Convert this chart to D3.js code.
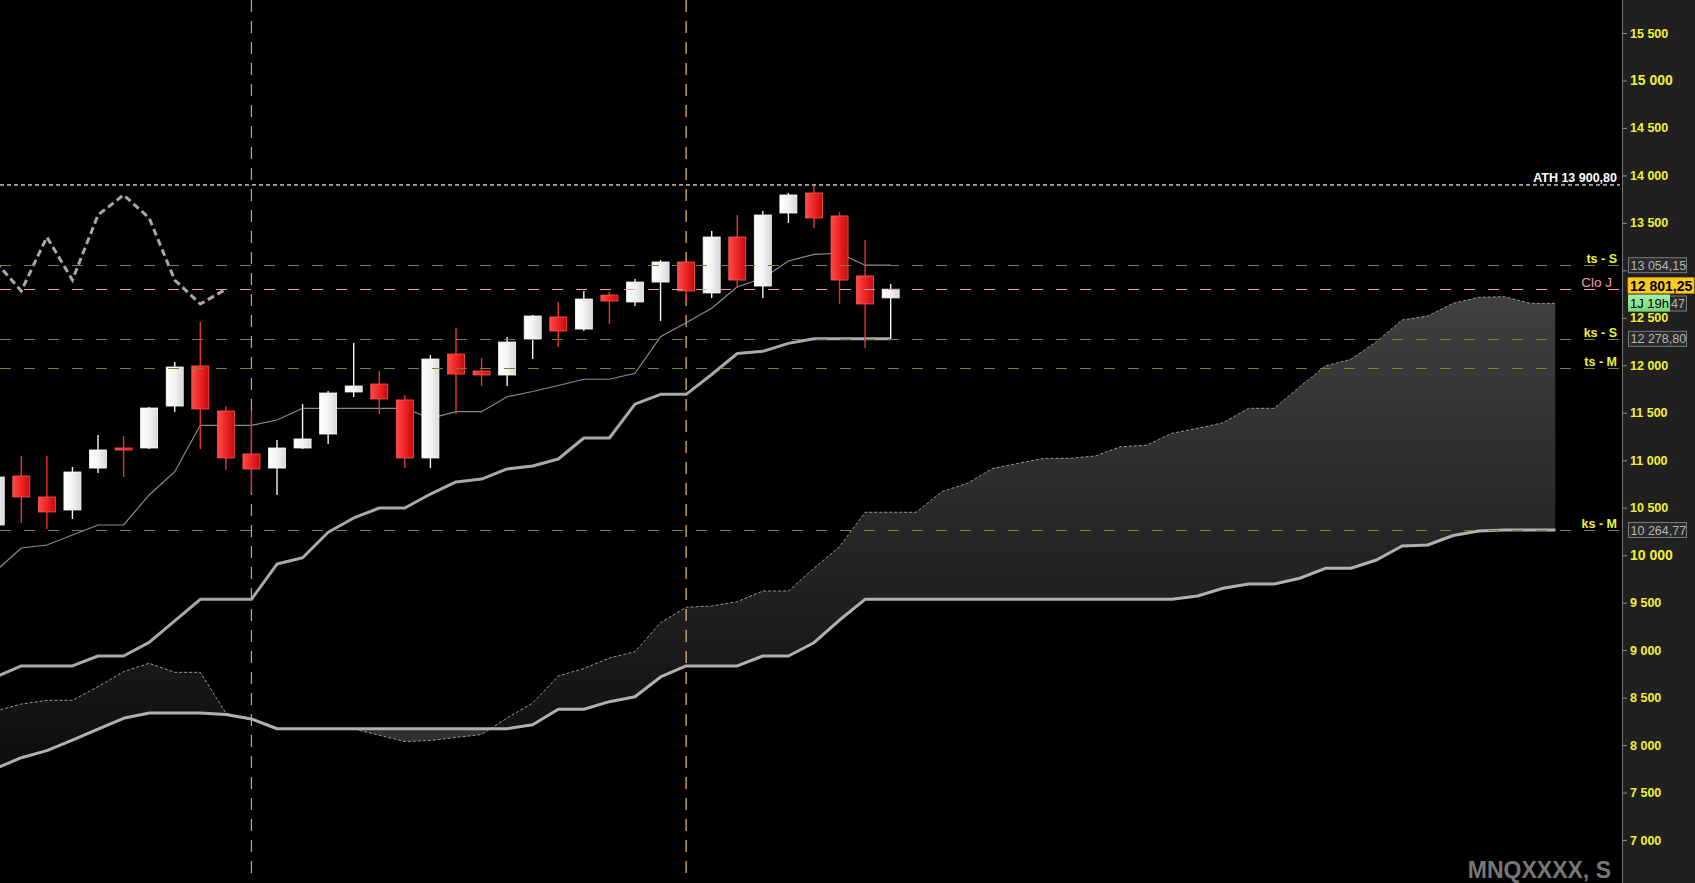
<!DOCTYPE html>
<html><head><meta charset="utf-8">
<script src="https://cdn.jsdelivr.net/npm/d3@7"></script>
<style>html,body{margin:0;padding:0;background:#000;overflow:hidden}svg{display:block}</style>
</head><body><svg id="c" width="1695" height="883"></svg>
<script>
// ---------------- DATA ----------------
const candleOpen  = [10318,10834,10613,10476,10918,11129,11129,11571,11993,11519,11066,10918,11129,11276,11719,11803,11635,11024,12119,11940,11898,12277,12509,12382,12740,12667,12877,13088,12762,13351,12835,13604,13815,13573,12941,12710];
const candleHigh  = [10840,11045,11045,10929,11266,11255,11561,12035,12456,11571,11529,11213,11592,11729,12235,11940,11687,12109,12393,12077,12298,12530,12667,12783,12772,12909,13109,13095,13415,13583,13625,13815,13900.8,13615,13320,12856];
const candleLow   = [10300,10339,10276,10381,10866,10823,11118,11508,11118,10897,10655,10634,11118,11171,11666,11487,10918,10918,11487,11782,11782,12066,12193,12361,12435,12625,12467,12667,12709,12814,12709,13499,13446,12646,12182,12278.8];
const candleClose = [10823,10613,10455,10876,11108,11108,11550,11982,11540,11024,10908,11129,11224,11708,11782,11645,11024,12066,11908,11898,12245,12519,12361,12698,12677,12877,13088,12783,13351,12898,13583,13794,13552,12898,12646,12801.25];

const tenkanSen = [9833,10076,10107,10213,10318,10318,10634,10879,11368,11368,11368,11424,11547,11547,11547,11547,11547,11442,11511,11511,11669,11724,11787,11853,11853,11916,12301,12449,12600,12828,12917,13099,13169,13180,13054.15,13054.15];
const kijunSen  = [8717,8833,8833,8833,8938,8938,9082,9307,9535,9535,9535,9907,9973,10241,10392,10497,10497,10644,10771,10802,10908,10939,11013,11234,11234,11592,11694,11694,11903,12124,12147,12231,12278.8,12278.8,12278.8,12278.8];

const senkouA = [8359,8432,8471,8471,8615,8773,8861,8766,8766,8338,
                 8264,8173,8173,8173,8169,8103,8037,8048,8080,8111,
                 8285,8443,8727,8806,8917,8983,9289,9451,9465,9510,
                 9623,9623,9862,10089,10452,10452,10452,10669,10757,10915,
                 10968,11020,11020,11045,11143,11157,11284,11336,11395,11547,
                 11547,11775,11993,12063,12249,12477,12519,12653,12716,12723,
                 12653,12653];
const senkouB = [7753,7867,7941,8053,8169,8282,8338,8338,8338,8322,
                 8275,8172,8172,8172,8172,8172,8172,8172,8172,8172,
                 8172,8214,8377,8377,8457,8509,8717,8833,8833,8833,
                 8938,8938,9078,9317,9535,9535,9535,9535,9535,9535,
                 9535,9535,9535,9535,9535,9535,9535,9570,9651,9696,
                 9696,9757,9862,9862,9949,10097,10107,10207,10255,10264.77,
                 10264.77,10264.77];
const chikouShift = 26;

const yTickValues = [7000,7500,8000,8500,9000,9500,10000,10500,11000,11500,12000,12500,13000,13500,14000,14500,15000,15500];

const athName = "ATH";
const athValue = 13900.80;
const levelNames  = ["ts - S", "Clo J", "ks - S", "ts - M", "ks - M"];
const levelValues = [13054.15, 12801.25, 12278.80, 11968, 10264.77];
const timerText = "1J 19h";
const timerHiddenValue = 12667.47;
const verticalMarkIndex = [10, 27];
const watermark = "MNQXXXX, S";

// ---------------- SETUP ----------------
const W = 1695, H = 883, AX = 1622;
const svg = d3.select("#c");
const FONT = "Arial, 'Liberation Sans', sans-serif";
const loc = d3.formatLocale({decimal: ",", thousands: " ", grouping: [3], currency: ["", ""]});
const fmtInt = loc.format(",d");
const fmtVal = loc.format(",.2f");

const nPeriods = senkouA.length; // 62
const x = d3.scaleLinear().domain([0, nPeriods - 1]).range([-4.27, 1555.5]);
const y = d3.scaleLinear().domain([7000, 15500]).range([840, 33]);

svg.append("rect").attr("width", W).attr("height", H).attr("fill", "#000");

const defs = svg.append("defs");
defs.append("clipPath").attr("id", "plotClip").append("rect").attr("x", 0).attr("y", 0).attr("width", AX).attr("height", H);

const gW = defs.append("linearGradient").attr("id", "gWhite").attr("x1", 0).attr("x2", 1).attr("y1", 0).attr("y2", 0);
gW.append("stop").attr("offset", 0).attr("stop-color", "#ffffff");
gW.append("stop").attr("offset", 0.5).attr("stop-color", "#f3f3f3");
gW.append("stop").attr("offset", 1).attr("stop-color", "#d8d8d8");
const gR = defs.append("linearGradient").attr("id", "gRed").attr("x1", 0).attr("x2", 1).attr("y1", 0).attr("y2", 0);
gR.append("stop").attr("offset", 0).attr("stop-color", "#ff4a4a");
gR.append("stop").attr("offset", 0.5).attr("stop-color", "#ee2424");
gR.append("stop").attr("offset", 1).attr("stop-color", "#c40c0c");
const gC = defs.append("linearGradient").attr("id", "gCloud").attr("gradientUnits", "userSpaceOnUse")
  .attr("x1", 0).attr("x2", 0).attr("y1", 290).attr("y2", 770);
gC.append("stop").attr("offset", 0).attr("stop-color", "#414141");
gC.append("stop").attr("offset", 1).attr("stop-color", "#0d0d0d");
const gG = defs.append("linearGradient").attr("id", "gGreen").attr("x1", 0).attr("x2", 0).attr("y1", 0).attr("y2", 1);
gG.append("stop").attr("offset", 0).attr("stop-color", "#a6f0a6");
gG.append("stop").attr("offset", 1).attr("stop-color", "#74d87c");

const idx = d3.range(nPeriods);
defs.append("clipPath").attr("id", "aboveB").append("path")
  .attr("d", d3.area().x(i => x(i)).y0(0).y1(i => y(senkouB[i]))(idx));
defs.append("clipPath").attr("id", "belowB").append("path")
  .attr("d", d3.area().x(i => x(i)).y0(H).y1(i => y(senkouB[i]))(idx));

const plot = svg.append("g").attr("clip-path", "url(#plotClip)");

// ---------------- CLOUD ----------------
const cloudArea = d3.area().x(i => x(i)).y0(i => y(senkouB[i])).y1(i => y(senkouA[i]));
plot.append("path").attr("d", cloudArea(idx)).attr("fill", "url(#gCloud)").attr("clip-path", "url(#aboveB)");
plot.append("path").attr("d", cloudArea(idx)).attr("fill", "#303030").attr("clip-path", "url(#belowB)");

const lineIdx = (arr) => d3.line().x(i => x(i)).y(i => y(arr[i]))(d3.range(arr.length));
plot.append("path").attr("d", lineIdx(senkouA)).attr("fill", "none")
  .attr("stroke", "#9a9a9a").attr("stroke-width", 1).attr("stroke-dasharray", "3,2");
plot.append("path").attr("d", lineIdx(senkouB)).attr("fill", "none")
  .attr("stroke", "#b0b0b0").attr("stroke-width", 3).attr("stroke-linejoin", "round");

// ---------------- VERTICAL MARKERS ----------------
const vColors = ["#dc86dc", "#f0c27a"];
verticalMarkIndex.forEach((vi, k) => {
  plot.append("line").attr("x1", x(vi)).attr("x2", x(vi)).attr("y1", 0).attr("y2", 877)
    .attr("stroke", vColors[k]).attr("stroke-width", 1.2).attr("stroke-dasharray", "12,9");
});

// ---------------- TENKAN / KIJUN / CHIKOU ----------------
plot.append("path").attr("d", lineIdx(tenkanSen)).attr("fill", "none")
  .attr("stroke", "#8c8c8c").attr("stroke-width", 1.2);
plot.append("path").attr("d", lineIdx(kijunSen)).attr("fill", "none")
  .attr("stroke", "#a9a9a9").attr("stroke-width", 3).attr("stroke-linejoin", "round");
const chikouIdx = d3.range(candleClose.length - chikouShift);
plot.append("path")
  .attr("d", d3.line().x(i => x(i)).y(i => y(candleClose[i + chikouShift]))(chikouIdx))
  .attr("fill", "none").attr("stroke", "#a8a8a8").attr("stroke-width", 3).attr("stroke-dasharray", "7,4");

// ---------------- CANDLES ----------------
const bodyW = 17;
const cIdx = d3.range(candleOpen.length);
const cg = plot.append("g");
cIdx.forEach(i => {
  const up = candleClose[i] >= candleOpen[i];
  const col = up ? "#f4f4f4" : "#e83030";
  cg.append("line").attr("x1", x(i)).attr("x2", x(i))
    .attr("y1", y(candleHigh[i])).attr("y2", y(candleLow[i]))
    .attr("stroke", col).attr("stroke-width", 1.4);
  const top = y(Math.max(candleOpen[i], candleClose[i]));
  const bot = y(Math.min(candleOpen[i], candleClose[i]));
  cg.append("rect").attr("x", x(i) - bodyW / 2).attr("y", top)
    .attr("width", bodyW).attr("height", Math.max(2, bot - top))
    .attr("fill", up ? "url(#gWhite)" : "url(#gRed)")
    .attr("stroke", up ? "#ffffff" : "#ff5555").attr("stroke-width", 0.8);
});

// ---------------- AXIS PANEL ----------------
svg.append("rect").attr("x", AX).attr("y", 0).attr("width", W - AX).attr("height", H).attr("fill", "#202020");
svg.append("line").attr("x1", AX + 0.5).attr("x2", AX + 0.5).attr("y1", 0).attr("y2", H)
  .attr("stroke", "#777").attr("stroke-width", 1);

const levelStyle = {
  "ts - S": {stroke: "#7f7f33", label: "#f2f230", bold: true, box: "grey", rx: 1617},
  "Clo J":  {stroke: "#e8a0a0", label: "#f0a0a0", bold: false, box: "yellow", rx: 1612},
  "ks - S": {stroke: "#7f7f33", label: "#f2f230", bold: true, box: "grey", rx: 1617},
  "ts - M": {stroke: "#7f7f33", label: "#f2f230", bold: true, box: null, rx: 1617},
  "ks - M": {stroke: "#7f7f33", label: "#f2f230", bold: true, box: "grey", rx: 1617}
};
// tick labels that sit under a value box are covered in the original
const boxedValues = levelValues.filter((v, k) => levelStyle[levelNames[k]].box);
const covered = d => boxedValues.some(v => Math.abs(y(v) - y(d)) < 9);

const axis = d3.axisRight(y).tickValues(yTickValues).tickSize(5).tickPadding(3).tickFormat(fmtInt);
const ag = svg.append("g").attr("transform", `translate(${AX},0)`).call(axis);
ag.select(".domain").remove();
ag.selectAll(".tick line").attr("stroke", "#888");
ag.selectAll(".tick text").attr("fill", "#f2f230").attr("font-family", FONT).attr("font-weight", "bold")
  .attr("font-size", d => (d % 5000 === 0 ? "14px" : "12.5px"));
ag.selectAll(".tick text").filter(d => covered(d)).remove();

// ---------------- LEVEL LINES ----------------
const lg = svg.append("g");
lg.append("line").attr("x1", 0).attr("x2", AX - 2).attr("y1", y(athValue)).attr("y2", y(athValue))
  .attr("stroke", "#a8a8a8").attr("stroke-width", 1.6).attr("stroke-dasharray", "4,3");
lg.append("text").attr("x", 1617).attr("y", y(athValue) - 3).attr("text-anchor", "end")
  .attr("fill", "#ffffff").attr("font-family", FONT).attr("font-weight", "bold").attr("font-size", "12.5px")
  .text(athName + " " + fmtVal(athValue));

levelNames.forEach((name, k) => {
  const st = levelStyle[name];
  const ly = Math.round(y(levelValues[k])) + 0.5;
  lg.append("line").attr("x1", 0).attr("x2", 1619).attr("y1", ly).attr("y2", ly)
    .attr("stroke", st.stroke).attr("stroke-width", 1).attr("stroke-dasharray", "11,13");
  lg.append("text").attr("x", st.rx).attr("y", ly - 3).attr("text-anchor", "end")
    .attr("fill", st.label).attr("font-family", FONT)
    .attr("font-weight", st.bold ? "bold" : "normal")
    .attr("font-size", st.bold ? "12.5px" : "13.5px").text(name);
});

// value boxes
const bg = svg.append("g");
function greyBox(v, cy) {
  bg.append("rect").attr("x", 1628.5).attr("y", cy - 7.5).attr("width", 58).attr("height", 15)
    .attr("fill", "#2a2a2a").attr("stroke", "#7a7a7a").attr("stroke-width", 1);
  bg.append("text").attr("x", 1630.5).attr("y", cy + 4.5).attr("fill", "#b4b4b4")
    .attr("font-family", FONT).attr("font-size", "12.5px").text(fmtVal(v));
}
levelNames.forEach((name, k) => {
  if (levelStyle[name].box === "grey") greyBox(levelValues[k], y(levelValues[k]));
});
// box partly hidden under the timer: only its last digits show
bg.append("rect").attr("x", 1628.5).attr("y", 296).attr("width", 58).attr("height", 15)
  .attr("fill", "#2a2a2a").attr("stroke", "#7a7a7a").attr("stroke-width", 1);
bg.append("text").attr("x", 1685).attr("y", 308).attr("text-anchor", "end").attr("fill", "#b4b4b4")
  .attr("font-family", FONT).attr("font-size", "12.5px").text(fmtVal(timerHiddenValue).slice(-2));
// timer box
bg.append("rect").attr("x", 1628).attr("y", 294.5).attr("width", 42).attr("height", 17).attr("fill", "url(#gGreen)");
bg.append("text").attr("x", 1630).attr("y", 307.5).attr("fill", "#000").attr("font-family", FONT)
  .attr("font-size", "13px").text(timerText);
// last price (Clo J) yellow box
const kClo = levelNames.indexOf("Clo J");
const cy = y(levelValues[kClo]);
bg.append("rect").attr("x", 1628).attr("y", cy - 11.5).attr("width", 66).attr("height", 15.5)
  .attr("fill", "#ffcc1a").attr("stroke", "#e0a800").attr("stroke-width", 0.8);
bg.append("text").attr("x", 1630).attr("y", cy + 1.5).attr("fill", "#000").attr("font-family", FONT)
  .attr("font-weight", "bold").attr("font-size", "14px").text(fmtVal(levelValues[kClo]));

// watermark
svg.append("text").attr("x", 1611).attr("y", 878).attr("text-anchor", "end")
  .attr("fill", "#777").attr("font-family", FONT).attr("font-weight", "bold").attr("font-size", "23px")
  .text(watermark);
</script></body></html>
